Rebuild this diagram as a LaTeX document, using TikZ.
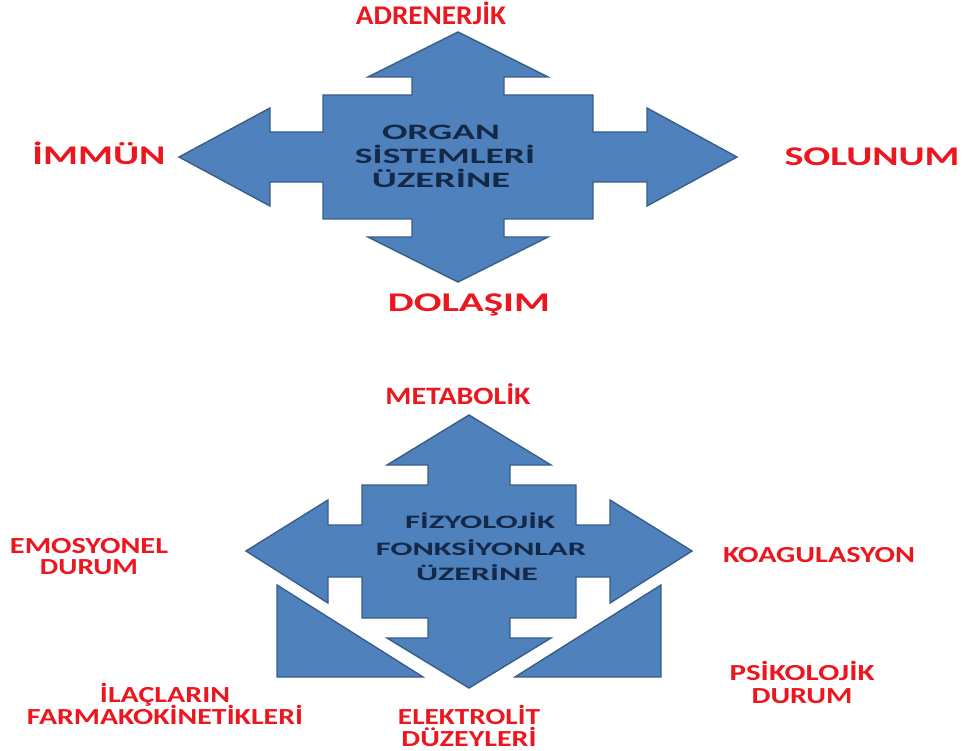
\documentclass[tikz,border=0pt]{standalone}
\usepackage{fontspec}
\setmainfont{Carlito}
\usepackage{graphicx}
\definecolor{arrowfill}{RGB}{79,129,189}
\definecolor{arrowline}{RGB}{56,93,138}
\definecolor{labred}{RGB}{236,22,30}
\definecolor{navytext}{RGB}{20,40,72}
\newcommand{\fitto}[2]{\resizebox{#1}{\height}{#2}}
\tikzset{
  quad/.style={fill=arrowfill, draw=arrowline, line width=1.4pt, line join=miter},
  tri/.style={fill=arrowfill, draw=arrowline, line width=1.4pt},
  lab/.style={text=labred, font=\bfseries\fontsize{25}{25}\selectfont, inner sep=0pt, anchor=base},
  biglab/.style={lab, font=\bfseries\fontsize{27}{27}\selectfont},
  smalllab/.style={lab, font=\bfseries\fontsize{23}{23}\selectfont},
  intext/.style={text=navytext, font=\bfseries\fontsize{22}{22}\selectfont, inner sep=0pt, anchor=base},
  intextb/.style={intext, font=\bfseries\fontsize{19}{19}\selectfont},
}
\begin{document}
\begin{tikzpicture}[x=1pt,y=-1pt]
\useasboundingbox (0,0) rectangle (964,751);
% ---------- top quad arrow ----------
\filldraw[quad] (458,32) -- (548,77) -- (504,77) -- (504,95) -- (593,95) -- (593,132) -- (647,132) -- (647,108) -- (737,157) -- (647,206) -- (647,182) -- (593,182) -- (593,219) -- (504,219) -- (504,237) -- (548,237) -- (458,282) -- (368,237) -- (412,237) -- (412,219) -- (323,219) -- (323,182) -- (270,182) -- (270,206) -- (179,157) -- (270,108) -- (270,132) -- (323,132) -- (323,95) -- (412,95) -- (412,77) -- (368,77) -- cycle;
\node[intext] (o1) at (441,140) {\fitto{118pt}{ORGAN}};
\node[intext] (o2) at (445,164) {\fitto{180pt}{SİSTEMLERİ}};
\node[intext] (o3) at (441,188) {\fitto{138pt}{ÜZERİNE}};
\node[biglab] (adr) at (431,25) {\fitto{150pt}{ADRENERJİK}};
\node[biglab] (imm) at (99,165) {\fitto{133pt}{İMMÜN}};
\node[biglab] (sol) at (872,166) {\fitto{175pt}{SOLUNUM}};
\node[biglab] (dol) at (469,312) {\fitto{162pt}{DOLAŞIM}};
% ---------- bottom figure ----------
\filldraw[tri] (277,585) -- (277,677) -- (423,677) -- cycle;
\filldraw[tri] (661,585) -- (661,677) -- (515,677) -- cycle;
\filldraw[quad] (469,415) -- (551,465) -- (510,465) -- (510,485) -- (576,485) -- (576,525) -- (610,525) -- (610,500) -- (692,551) -- (610,603) -- (610,577) -- (576,577) -- (576,618) -- (510,618) -- (510,638) -- (551,638) -- (469,688) -- (387,638) -- (428,638) -- (428,618) -- (362,618) -- (362,577) -- (328,577) -- (328,603) -- (246,551) -- (328,500) -- (328,525) -- (362,525) -- (362,485) -- (428,485) -- (428,465) -- (387,465) -- cycle;
\node[intextb] (f1) at (480,528) {\fitto{150pt}{FİZYOLOJİK}};
\node[intextb] (f2) at (481,555) {\fitto{210pt}{FONKSİYONLAR}};
\node[intextb] (f3) at (477,580) {\fitto{122pt}{ÜZERİNE}};
\node[lab] (met) at (458,404) {\fitto{145pt}{METABOLİK}};
\node[smalllab] (emo1) at (89,553) {\fitto{158pt}{EMOSYONEL}};
\node[smalllab] (emo2) at (89,574) {\fitto{98pt}{DURUM}};
\node[smalllab] (koa) at (819,562) {\fitto{192pt}{KOAGULASYON}};
\node[smalllab] (psi1) at (802,680) {\fitto{145pt}{PSİKOLOJİK}};
\node[smalllab] (psi2) at (802,703) {\fitto{101pt}{DURUM}};
\node[smalllab] (ila1) at (165,702) {\fitto{130pt}{İLAÇLARIN}};
\node[smalllab] (ila2) at (165,724) {\fitto{276pt}{FARMAKOKİNETİKLERİ}};
\node[smalllab] (ele1) at (469,724) {\fitto{142pt}{ELEKTROLİT}};
\node[smalllab] (ele2) at (469,746) {\fitto{135pt}{DÜZEYLERİ}};
\end{tikzpicture}
\end{document}
